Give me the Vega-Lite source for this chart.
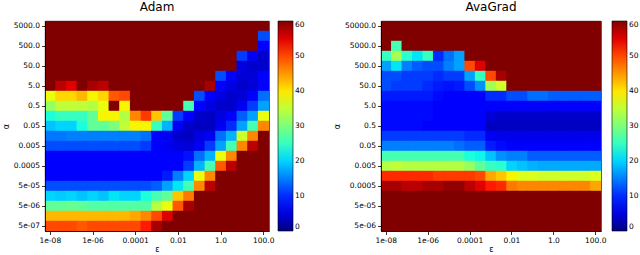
{
"$schema":"https://vega.github.io/schema/vega-lite/v6.json",
"padding":{"left":1,"top":0,"right":0,"bottom":0},
"background":"white",
"config":{
"font":"DejaVu Sans",
"view":{"stroke":"black","strokeWidth":0.8},
"axis":{"labelFont":"DejaVu Sans","labelFontSize":7.5,"labelColor":"black","tickColor":"black","domainColor":"black","tickSize":3.5,"tickWidth":0.8,"domainWidth":0.8,"labelPadding":2,"titleFont":"DejaVu Sans","titleFontWeight":"normal","titleFontSize":8,"titleColor":"black","grid":false,"labelAngle":0,"labelOverlap":false,"titlePadding":3},
"axisX":{"titlePadding":1},
"title":{"font":"DejaVu Sans","fontSize":12,"fontWeight":"normal","color":"black","offset":7},
"legend":{"labelFont":"DejaVu Sans","labelFontSize":7.5,"labelColor":"black","gradientLength":210,"gradientThickness":15,"gradientStrokeColor":"black","gradientStrokeWidth":0.6,"offset":9,"labelOffset":4,"padding":0}
},
"datasets":{
"adam":[
{"r":0,"c":0,"v":60},{"r":0,"c":1,"v":60},{"r":0,"c":2,"v":60},{"r":0,"c":3,"v":60},{"r":0,"c":4,"v":60},{"r":0,"c":5,"v":60},{"r":0,"c":6,"v":60},{"r":0,"c":7,"v":60},{"r":0,"c":8,"v":60},{"r":0,"c":9,"v":60},{"r":0,"c":10,"v":60},{"r":0,"c":11,"v":60},{"r":0,"c":12,"v":60},{"r":0,"c":13,"v":60},{"r":0,"c":14,"v":60},{"r":0,"c":15,"v":60},{"r":0,"c":16,"v":60},{"r":0,"c":17,"v":60},{"r":0,"c":18,"v":60},{"r":0,"c":19,"v":60},{"r":0,"c":20,"v":60},
{"r":1,"c":0,"v":60},{"r":1,"c":1,"v":60},{"r":1,"c":2,"v":60},{"r":1,"c":3,"v":60},{"r":1,"c":4,"v":60},{"r":1,"c":5,"v":60},{"r":1,"c":6,"v":60},{"r":1,"c":7,"v":60},{"r":1,"c":8,"v":60},{"r":1,"c":9,"v":60},{"r":1,"c":10,"v":60},{"r":1,"c":11,"v":60},{"r":1,"c":12,"v":60},{"r":1,"c":13,"v":60},{"r":1,"c":14,"v":60},{"r":1,"c":15,"v":60},{"r":1,"c":16,"v":60},{"r":1,"c":17,"v":60},{"r":1,"c":18,"v":60},{"r":1,"c":19,"v":60},{"r":1,"c":20,"v":12},
{"r":2,"c":0,"v":60},{"r":2,"c":1,"v":60},{"r":2,"c":2,"v":60},{"r":2,"c":3,"v":60},{"r":2,"c":4,"v":60},{"r":2,"c":5,"v":60},{"r":2,"c":6,"v":60},{"r":2,"c":7,"v":60},{"r":2,"c":8,"v":60},{"r":2,"c":9,"v":60},{"r":2,"c":10,"v":60},{"r":2,"c":11,"v":60},{"r":2,"c":12,"v":60},{"r":2,"c":13,"v":60},{"r":2,"c":14,"v":60},{"r":2,"c":15,"v":60},{"r":2,"c":16,"v":60},{"r":2,"c":17,"v":60},{"r":2,"c":18,"v":60},{"r":2,"c":19,"v":60},{"r":2,"c":20,"v":7},
{"r":3,"c":0,"v":60},{"r":3,"c":1,"v":60},{"r":3,"c":2,"v":60},{"r":3,"c":3,"v":60},{"r":3,"c":4,"v":60},{"r":3,"c":5,"v":60},{"r":3,"c":6,"v":60},{"r":3,"c":7,"v":60},{"r":3,"c":8,"v":60},{"r":3,"c":9,"v":60},{"r":3,"c":10,"v":60},{"r":3,"c":11,"v":60},{"r":3,"c":12,"v":60},{"r":3,"c":13,"v":60},{"r":3,"c":14,"v":60},{"r":3,"c":15,"v":60},{"r":3,"c":16,"v":60},{"r":3,"c":17,"v":60},{"r":3,"c":18,"v":11},{"r":3,"c":19,"v":6},{"r":3,"c":20,"v":4},
{"r":4,"c":0,"v":60},{"r":4,"c":1,"v":60},{"r":4,"c":2,"v":60},{"r":4,"c":3,"v":60},{"r":4,"c":4,"v":60},{"r":4,"c":5,"v":60},{"r":4,"c":6,"v":60},{"r":4,"c":7,"v":60},{"r":4,"c":8,"v":60},{"r":4,"c":9,"v":60},{"r":4,"c":10,"v":60},{"r":4,"c":11,"v":60},{"r":4,"c":12,"v":60},{"r":4,"c":13,"v":60},{"r":4,"c":14,"v":60},{"r":4,"c":15,"v":60},{"r":4,"c":16,"v":60},{"r":4,"c":17,"v":60},{"r":4,"c":18,"v":5},{"r":4,"c":19,"v":4},{"r":4,"c":20,"v":4},
{"r":5,"c":0,"v":60},{"r":5,"c":1,"v":60},{"r":5,"c":2,"v":60},{"r":5,"c":3,"v":60},{"r":5,"c":4,"v":60},{"r":5,"c":5,"v":60},{"r":5,"c":6,"v":60},{"r":5,"c":7,"v":60},{"r":5,"c":8,"v":60},{"r":5,"c":9,"v":60},{"r":5,"c":10,"v":60},{"r":5,"c":11,"v":60},{"r":5,"c":12,"v":60},{"r":5,"c":13,"v":60},{"r":5,"c":14,"v":60},{"r":5,"c":15,"v":60},{"r":5,"c":16,"v":12},{"r":5,"c":17,"v":7},{"r":5,"c":18,"v":4.5},{"r":5,"c":19,"v":4.5},{"r":5,"c":20,"v":7},
{"r":6,"c":0,"v":60},{"r":6,"c":1,"v":57},{"r":6,"c":2,"v":55},{"r":6,"c":3,"v":60},{"r":6,"c":4,"v":58},{"r":6,"c":5,"v":57},{"r":6,"c":6,"v":60},{"r":6,"c":7,"v":60},{"r":6,"c":8,"v":60},{"r":6,"c":9,"v":60},{"r":6,"c":10,"v":60},{"r":6,"c":11,"v":60},{"r":6,"c":12,"v":60},{"r":6,"c":13,"v":60},{"r":6,"c":14,"v":60},{"r":6,"c":15,"v":58},{"r":6,"c":16,"v":7},{"r":6,"c":17,"v":5},{"r":6,"c":18,"v":4},{"r":6,"c":19,"v":4.5},{"r":6,"c":20,"v":7},
{"r":7,"c":0,"v":38},{"r":7,"c":1,"v":41},{"r":7,"c":2,"v":41},{"r":7,"c":3,"v":43},{"r":7,"c":4,"v":39},{"r":7,"c":5,"v":41},{"r":7,"c":6,"v":49},{"r":7,"c":7,"v":50},{"r":7,"c":8,"v":60},{"r":7,"c":9,"v":60},{"r":7,"c":10,"v":60},{"r":7,"c":11,"v":60},{"r":7,"c":12,"v":60},{"r":7,"c":13,"v":60},{"r":7,"c":14,"v":12},{"r":7,"c":15,"v":7},{"r":7,"c":16,"v":5},{"r":7,"c":17,"v":4},{"r":7,"c":18,"v":4.5},{"r":7,"c":19,"v":7},{"r":7,"c":20,"v":14},
{"r":8,"c":0,"v":32},{"r":8,"c":1,"v":35},{"r":8,"c":2,"v":35},{"r":8,"c":3,"v":35},{"r":8,"c":4,"v":34},{"r":8,"c":5,"v":38},{"r":8,"c":6,"v":60},{"r":8,"c":7,"v":39},{"r":8,"c":8,"v":60},{"r":8,"c":9,"v":60},{"r":8,"c":10,"v":60},{"r":8,"c":11,"v":60},{"r":8,"c":12,"v":60},{"r":8,"c":13,"v":26},{"r":8,"c":14,"v":7},{"r":8,"c":15,"v":5},{"r":8,"c":16,"v":4},{"r":8,"c":17,"v":4},{"r":8,"c":18,"v":6},{"r":8,"c":19,"v":11},{"r":8,"c":20,"v":17},
{"r":9,"c":0,"v":23},{"r":9,"c":1,"v":25},{"r":9,"c":2,"v":25},{"r":9,"c":3,"v":25},{"r":9,"c":4,"v":28},{"r":9,"c":5,"v":39},{"r":9,"c":6,"v":39},{"r":9,"c":7,"v":34},{"r":9,"c":8,"v":46},{"r":9,"c":9,"v":51},{"r":9,"c":10,"v":42},{"r":9,"c":11,"v":28},{"r":9,"c":12,"v":11},{"r":9,"c":13,"v":7},{"r":9,"c":14,"v":4},{"r":9,"c":15,"v":3.5},{"r":9,"c":16,"v":5},{"r":9,"c":17,"v":7},{"r":9,"c":18,"v":13},{"r":9,"c":19,"v":17},{"r":9,"c":20,"v":38},
{"r":10,"c":0,"v":19},{"r":10,"c":1,"v":20},{"r":10,"c":2,"v":20},{"r":10,"c":3,"v":23},{"r":10,"c":4,"v":28},{"r":10,"c":5,"v":28},{"r":10,"c":6,"v":30},{"r":10,"c":7,"v":35},{"r":10,"c":8,"v":39},{"r":10,"c":9,"v":39},{"r":10,"c":10,"v":25},{"r":10,"c":11,"v":18},{"r":10,"c":12,"v":6},{"r":10,"c":13,"v":4},{"r":10,"c":14,"v":3.5},{"r":10,"c":15,"v":3.5},{"r":10,"c":16,"v":6},{"r":10,"c":17,"v":10},{"r":10,"c":18,"v":17},{"r":10,"c":19,"v":26},{"r":10,"c":20,"v":46},
{"r":11,"c":0,"v":14.5},{"r":11,"c":1,"v":14.5},{"r":11,"c":2,"v":15},{"r":11,"c":3,"v":15},{"r":11,"c":4,"v":15},{"r":11,"c":5,"v":15},{"r":11,"c":6,"v":15},{"r":11,"c":7,"v":15},{"r":11,"c":8,"v":15},{"r":11,"c":9,"v":14},{"r":11,"c":10,"v":7},{"r":11,"c":11,"v":6},{"r":11,"c":12,"v":4},{"r":11,"c":13,"v":3.5},{"r":11,"c":14,"v":5},{"r":11,"c":15,"v":6},{"r":11,"c":16,"v":14},{"r":11,"c":17,"v":18},{"r":11,"c":18,"v":36},{"r":11,"c":19,"v":46},{"r":11,"c":20,"v":60},
{"r":12,"c":0,"v":12},{"r":12,"c":1,"v":12},{"r":12,"c":2,"v":12},{"r":12,"c":3,"v":12},{"r":12,"c":4,"v":12},{"r":12,"c":5,"v":12},{"r":12,"c":6,"v":12},{"r":12,"c":7,"v":12},{"r":12,"c":8,"v":12},{"r":12,"c":9,"v":11},{"r":12,"c":10,"v":7},{"r":12,"c":11,"v":6},{"r":12,"c":12,"v":5},{"r":12,"c":13,"v":4.5},{"r":12,"c":14,"v":6},{"r":12,"c":15,"v":11},{"r":12,"c":16,"v":17},{"r":12,"c":17,"v":26},{"r":12,"c":18,"v":46},{"r":12,"c":19,"v":57},{"r":12,"c":20,"v":60},
{"r":13,"c":0,"v":7.5},{"r":13,"c":1,"v":7.5},{"r":13,"c":2,"v":7.5},{"r":13,"c":3,"v":7.5},{"r":13,"c":4,"v":7.5},{"r":13,"c":5,"v":7.5},{"r":13,"c":6,"v":7.5},{"r":13,"c":7,"v":7.5},{"r":13,"c":8,"v":7.5},{"r":13,"c":9,"v":7.5},{"r":13,"c":10,"v":7.5},{"r":13,"c":11,"v":7.5},{"r":13,"c":12,"v":7.5},{"r":13,"c":13,"v":8.5},{"r":13,"c":14,"v":14},{"r":13,"c":15,"v":18},{"r":13,"c":16,"v":38},{"r":13,"c":17,"v":46},{"r":13,"c":18,"v":60},{"r":13,"c":19,"v":60},{"r":13,"c":20,"v":60},
{"r":14,"c":0,"v":7.5},{"r":14,"c":1,"v":7.5},{"r":14,"c":2,"v":7.5},{"r":14,"c":3,"v":7.5},{"r":14,"c":4,"v":7.5},{"r":14,"c":5,"v":7.5},{"r":14,"c":6,"v":7.5},{"r":14,"c":7,"v":7.5},{"r":14,"c":8,"v":7.5},{"r":14,"c":9,"v":7.5},{"r":14,"c":10,"v":7.5},{"r":14,"c":11,"v":7.5},{"r":14,"c":12,"v":7.5},{"r":14,"c":13,"v":11},{"r":14,"c":14,"v":18},{"r":14,"c":15,"v":26},{"r":14,"c":16,"v":49},{"r":14,"c":17,"v":57},{"r":14,"c":18,"v":60},{"r":14,"c":19,"v":60},{"r":14,"c":20,"v":60},
{"r":15,"c":0,"v":7},{"r":15,"c":1,"v":7},{"r":15,"c":2,"v":7},{"r":15,"c":3,"v":7},{"r":15,"c":4,"v":7},{"r":15,"c":5,"v":7},{"r":15,"c":6,"v":7},{"r":15,"c":7,"v":7},{"r":15,"c":8,"v":7},{"r":15,"c":9,"v":7},{"r":15,"c":10,"v":7.5},{"r":15,"c":11,"v":9},{"r":15,"c":12,"v":15},{"r":15,"c":13,"v":20},{"r":15,"c":14,"v":38},{"r":15,"c":15,"v":46},{"r":15,"c":16,"v":60},{"r":15,"c":17,"v":60},{"r":15,"c":18,"v":60},{"r":15,"c":19,"v":60},{"r":15,"c":20,"v":60},
{"r":16,"c":0,"v":12},{"r":16,"c":1,"v":12},{"r":16,"c":2,"v":12},{"r":16,"c":3,"v":12},{"r":16,"c":4,"v":12},{"r":16,"c":5,"v":12},{"r":16,"c":6,"v":12},{"r":16,"c":7,"v":12},{"r":16,"c":8,"v":12},{"r":16,"c":9,"v":12},{"r":16,"c":10,"v":13},{"r":16,"c":11,"v":17},{"r":16,"c":12,"v":21},{"r":16,"c":13,"v":26},{"r":16,"c":14,"v":46},{"r":16,"c":15,"v":57},{"r":16,"c":16,"v":60},{"r":16,"c":17,"v":60},{"r":16,"c":18,"v":60},{"r":16,"c":19,"v":60},{"r":16,"c":20,"v":60},
{"r":17,"c":0,"v":20},{"r":17,"c":1,"v":19.5},{"r":17,"c":2,"v":20},{"r":17,"c":3,"v":19},{"r":17,"c":4,"v":20},{"r":17,"c":5,"v":19},{"r":17,"c":6,"v":21},{"r":17,"c":7,"v":20},{"r":17,"c":8,"v":20},{"r":17,"c":9,"v":23},{"r":17,"c":10,"v":26},{"r":17,"c":11,"v":28},{"r":17,"c":12,"v":42},{"r":17,"c":13,"v":47},{"r":17,"c":14,"v":60},{"r":17,"c":15,"v":60},{"r":17,"c":16,"v":60},{"r":17,"c":17,"v":60},{"r":17,"c":18,"v":60},{"r":17,"c":19,"v":60},{"r":17,"c":20,"v":60},
{"r":18,"c":0,"v":28},{"r":18,"c":1,"v":28},{"r":18,"c":2,"v":28.5},{"r":18,"c":3,"v":28},{"r":18,"c":4,"v":27},{"r":18,"c":5,"v":27},{"r":18,"c":6,"v":27},{"r":18,"c":7,"v":27},{"r":18,"c":8,"v":27},{"r":18,"c":9,"v":27},{"r":18,"c":10,"v":34},{"r":18,"c":11,"v":38},{"r":18,"c":12,"v":49},{"r":18,"c":13,"v":58},{"r":18,"c":14,"v":60},{"r":18,"c":15,"v":60},{"r":18,"c":16,"v":60},{"r":18,"c":17,"v":60},{"r":18,"c":18,"v":60},{"r":18,"c":19,"v":60},{"r":18,"c":20,"v":60},
{"r":19,"c":0,"v":43},{"r":19,"c":1,"v":43},{"r":19,"c":2,"v":43},{"r":19,"c":3,"v":43},{"r":19,"c":4,"v":43},{"r":19,"c":5,"v":43},{"r":19,"c":6,"v":43},{"r":19,"c":7,"v":43},{"r":19,"c":8,"v":44},{"r":19,"c":9,"v":46},{"r":19,"c":10,"v":50},{"r":19,"c":11,"v":55},{"r":19,"c":12,"v":60},{"r":19,"c":13,"v":60},{"r":19,"c":14,"v":60},{"r":19,"c":15,"v":60},{"r":19,"c":16,"v":60},{"r":19,"c":17,"v":60},{"r":19,"c":18,"v":60},{"r":19,"c":19,"v":60},{"r":19,"c":20,"v":60},
{"r":20,"c":0,"v":50},{"r":20,"c":1,"v":50},{"r":20,"c":2,"v":50},{"r":20,"c":3,"v":49},{"r":20,"c":4,"v":50},{"r":20,"c":5,"v":50},{"r":20,"c":6,"v":50},{"r":20,"c":7,"v":50},{"r":20,"c":8,"v":50},{"r":20,"c":9,"v":53},{"r":20,"c":10,"v":58},{"r":20,"c":11,"v":60},{"r":20,"c":12,"v":60},{"r":20,"c":13,"v":60},{"r":20,"c":14,"v":60},{"r":20,"c":15,"v":60},{"r":20,"c":16,"v":60},{"r":20,"c":17,"v":60},{"r":20,"c":18,"v":60},{"r":20,"c":19,"v":60},{"r":20,"c":20,"v":60}
],
"ava":[
{"r":0,"c":0,"v":60},{"r":0,"c":1,"v":60},{"r":0,"c":2,"v":60},{"r":0,"c":3,"v":60},{"r":0,"c":4,"v":60},{"r":0,"c":5,"v":60},{"r":0,"c":6,"v":60},{"r":0,"c":7,"v":60},{"r":0,"c":8,"v":60},{"r":0,"c":9,"v":60},{"r":0,"c":10,"v":60},{"r":0,"c":11,"v":60},{"r":0,"c":12,"v":60},{"r":0,"c":13,"v":60},{"r":0,"c":14,"v":60},{"r":0,"c":15,"v":60},{"r":0,"c":16,"v":60},{"r":0,"c":17,"v":60},{"r":0,"c":18,"v":60},{"r":0,"c":19,"v":60},{"r":0,"c":20,"v":60},
{"r":1,"c":0,"v":60},{"r":1,"c":1,"v":60},{"r":1,"c":2,"v":60},{"r":1,"c":3,"v":60},{"r":1,"c":4,"v":60},{"r":1,"c":5,"v":60},{"r":1,"c":6,"v":60},{"r":1,"c":7,"v":60},{"r":1,"c":8,"v":60},{"r":1,"c":9,"v":60},{"r":1,"c":10,"v":60},{"r":1,"c":11,"v":60},{"r":1,"c":12,"v":60},{"r":1,"c":13,"v":60},{"r":1,"c":14,"v":60},{"r":1,"c":15,"v":60},{"r":1,"c":16,"v":60},{"r":1,"c":17,"v":60},{"r":1,"c":18,"v":60},{"r":1,"c":19,"v":60},{"r":1,"c":20,"v":60},
{"r":2,"c":0,"v":60},{"r":2,"c":1,"v":26},{"r":2,"c":2,"v":60},{"r":2,"c":3,"v":60},{"r":2,"c":4,"v":60},{"r":2,"c":5,"v":60},{"r":2,"c":6,"v":60},{"r":2,"c":7,"v":60},{"r":2,"c":8,"v":60},{"r":2,"c":9,"v":60},{"r":2,"c":10,"v":60},{"r":2,"c":11,"v":60},{"r":2,"c":12,"v":60},{"r":2,"c":13,"v":60},{"r":2,"c":14,"v":60},{"r":2,"c":15,"v":60},{"r":2,"c":16,"v":60},{"r":2,"c":17,"v":60},{"r":2,"c":18,"v":60},{"r":2,"c":19,"v":60},{"r":2,"c":20,"v":60},
{"r":3,"c":0,"v":25},{"r":3,"c":1,"v":33},{"r":3,"c":2,"v":24},{"r":3,"c":3,"v":21},{"r":3,"c":4,"v":25},{"r":3,"c":5,"v":10},{"r":3,"c":6,"v":14},{"r":3,"c":7,"v":17},{"r":3,"c":8,"v":60},{"r":3,"c":9,"v":60},{"r":3,"c":10,"v":60},{"r":3,"c":11,"v":60},{"r":3,"c":12,"v":60},{"r":3,"c":13,"v":60},{"r":3,"c":14,"v":60},{"r":3,"c":15,"v":60},{"r":3,"c":16,"v":60},{"r":3,"c":17,"v":60},{"r":3,"c":18,"v":60},{"r":3,"c":19,"v":60},{"r":3,"c":20,"v":60},
{"r":4,"c":0,"v":17},{"r":4,"c":1,"v":21},{"r":4,"c":2,"v":15},{"r":4,"c":3,"v":13},{"r":4,"c":4,"v":12},{"r":4,"c":5,"v":12},{"r":4,"c":6,"v":15},{"r":4,"c":7,"v":17},{"r":4,"c":8,"v":50},{"r":4,"c":9,"v":55},{"r":4,"c":10,"v":60},{"r":4,"c":11,"v":60},{"r":4,"c":12,"v":60},{"r":4,"c":13,"v":60},{"r":4,"c":14,"v":60},{"r":4,"c":15,"v":60},{"r":4,"c":16,"v":60},{"r":4,"c":17,"v":60},{"r":4,"c":18,"v":60},{"r":4,"c":19,"v":60},{"r":4,"c":20,"v":60},
{"r":5,"c":0,"v":12},{"r":5,"c":1,"v":12},{"r":5,"c":2,"v":11},{"r":5,"c":3,"v":11},{"r":5,"c":4,"v":11},{"r":5,"c":5,"v":10},{"r":5,"c":6,"v":11},{"r":5,"c":7,"v":11},{"r":5,"c":8,"v":17},{"r":5,"c":9,"v":25},{"r":5,"c":10,"v":50},{"r":5,"c":11,"v":58},{"r":5,"c":12,"v":60},{"r":5,"c":13,"v":60},{"r":5,"c":14,"v":60},{"r":5,"c":15,"v":60},{"r":5,"c":16,"v":60},{"r":5,"c":17,"v":60},{"r":5,"c":18,"v":60},{"r":5,"c":19,"v":60},{"r":5,"c":20,"v":60},
{"r":6,"c":0,"v":12},{"r":6,"c":1,"v":11},{"r":6,"c":2,"v":11},{"r":6,"c":3,"v":11},{"r":6,"c":4,"v":10},{"r":6,"c":5,"v":9},{"r":6,"c":6,"v":8.5},{"r":6,"c":7,"v":9},{"r":6,"c":8,"v":12},{"r":6,"c":9,"v":16},{"r":6,"c":10,"v":33},{"r":6,"c":11,"v":36},{"r":6,"c":12,"v":60},{"r":6,"c":13,"v":60},{"r":6,"c":14,"v":60},{"r":6,"c":15,"v":60},{"r":6,"c":16,"v":60},{"r":6,"c":17,"v":60},{"r":6,"c":18,"v":60},{"r":6,"c":19,"v":60},{"r":6,"c":20,"v":60},
{"r":7,"c":0,"v":9},{"r":7,"c":1,"v":9},{"r":7,"c":2,"v":9},{"r":7,"c":3,"v":9},{"r":7,"c":4,"v":9},{"r":7,"c":5,"v":8},{"r":7,"c":6,"v":7},{"r":7,"c":7,"v":7},{"r":7,"c":8,"v":7},{"r":7,"c":9,"v":7},{"r":7,"c":10,"v":10},{"r":7,"c":11,"v":10},{"r":7,"c":12,"v":12},{"r":7,"c":13,"v":12},{"r":7,"c":14,"v":14},{"r":7,"c":15,"v":14},{"r":7,"c":16,"v":13},{"r":7,"c":17,"v":13},{"r":7,"c":18,"v":13},{"r":7,"c":19,"v":13},{"r":7,"c":20,"v":13},
{"r":8,"c":0,"v":8},{"r":8,"c":1,"v":8},{"r":8,"c":2,"v":8},{"r":8,"c":3,"v":8},{"r":8,"c":4,"v":8},{"r":8,"c":5,"v":7.5},{"r":8,"c":6,"v":7},{"r":8,"c":7,"v":7},{"r":8,"c":8,"v":7},{"r":8,"c":9,"v":7},{"r":8,"c":10,"v":6.5},{"r":8,"c":11,"v":6.5},{"r":8,"c":12,"v":6.5},{"r":8,"c":13,"v":6.5},{"r":8,"c":14,"v":6.5},{"r":8,"c":15,"v":6.5},{"r":8,"c":16,"v":6.5},{"r":8,"c":17,"v":6.5},{"r":8,"c":18,"v":6.5},{"r":8,"c":19,"v":6.5},{"r":8,"c":20,"v":6.5},
{"r":9,"c":0,"v":8},{"r":9,"c":1,"v":8},{"r":9,"c":2,"v":8},{"r":9,"c":3,"v":8},{"r":9,"c":4,"v":8},{"r":9,"c":5,"v":7},{"r":9,"c":6,"v":7},{"r":9,"c":7,"v":7},{"r":9,"c":8,"v":7},{"r":9,"c":9,"v":7},{"r":9,"c":10,"v":4.5},{"r":9,"c":11,"v":4},{"r":9,"c":12,"v":4},{"r":9,"c":13,"v":4},{"r":9,"c":14,"v":4},{"r":9,"c":15,"v":4},{"r":9,"c":16,"v":4},{"r":9,"c":17,"v":4},{"r":9,"c":18,"v":4},{"r":9,"c":19,"v":4},{"r":9,"c":20,"v":4},
{"r":10,"c":0,"v":8},{"r":10,"c":1,"v":8},{"r":10,"c":2,"v":8},{"r":10,"c":3,"v":8},{"r":10,"c":4,"v":7.5},{"r":10,"c":5,"v":7},{"r":10,"c":6,"v":7},{"r":10,"c":7,"v":7},{"r":10,"c":8,"v":7},{"r":10,"c":9,"v":7},{"r":10,"c":10,"v":3.5},{"r":10,"c":11,"v":3.5},{"r":10,"c":12,"v":3.5},{"r":10,"c":13,"v":3.5},{"r":10,"c":14,"v":3.5},{"r":10,"c":15,"v":3.5},{"r":10,"c":16,"v":3.5},{"r":10,"c":17,"v":3.5},{"r":10,"c":18,"v":3.5},{"r":10,"c":19,"v":3.5},{"r":10,"c":20,"v":3.5},
{"r":11,"c":0,"v":11},{"r":11,"c":1,"v":11},{"r":11,"c":2,"v":11},{"r":11,"c":3,"v":11},{"r":11,"c":4,"v":11},{"r":11,"c":5,"v":11},{"r":11,"c":6,"v":11},{"r":11,"c":7,"v":11},{"r":11,"c":8,"v":10},{"r":11,"c":9,"v":10},{"r":11,"c":10,"v":6},{"r":11,"c":11,"v":5.5},{"r":11,"c":12,"v":5.5},{"r":11,"c":13,"v":5.5},{"r":11,"c":14,"v":5.5},{"r":11,"c":15,"v":5.5},{"r":11,"c":16,"v":5.5},{"r":11,"c":17,"v":5.5},{"r":11,"c":18,"v":5.5},{"r":11,"c":19,"v":5.5},{"r":11,"c":20,"v":5.5},
{"r":12,"c":0,"v":15},{"r":12,"c":1,"v":15},{"r":12,"c":2,"v":15},{"r":12,"c":3,"v":15},{"r":12,"c":4,"v":15},{"r":12,"c":5,"v":15},{"r":12,"c":6,"v":15},{"r":12,"c":7,"v":14},{"r":12,"c":8,"v":13},{"r":12,"c":9,"v":13},{"r":12,"c":10,"v":9},{"r":12,"c":11,"v":8},{"r":12,"c":12,"v":7},{"r":12,"c":13,"v":7},{"r":12,"c":14,"v":7},{"r":12,"c":15,"v":7},{"r":12,"c":16,"v":7},{"r":12,"c":17,"v":7},{"r":12,"c":18,"v":7},{"r":12,"c":19,"v":7},{"r":12,"c":20,"v":7},
{"r":13,"c":0,"v":26},{"r":13,"c":1,"v":26},{"r":13,"c":2,"v":26},{"r":13,"c":3,"v":26},{"r":13,"c":4,"v":26},{"r":13,"c":5,"v":26},{"r":13,"c":6,"v":26},{"r":13,"c":7,"v":26},{"r":13,"c":8,"v":23},{"r":13,"c":9,"v":22},{"r":13,"c":10,"v":19},{"r":13,"c":11,"v":16},{"r":13,"c":12,"v":15},{"r":13,"c":13,"v":15},{"r":13,"c":14,"v":13},{"r":13,"c":15,"v":13},{"r":13,"c":16,"v":13},{"r":13,"c":17,"v":13},{"r":13,"c":18,"v":13},{"r":13,"c":19,"v":13},{"r":13,"c":20,"v":13},
{"r":14,"c":0,"v":34},{"r":14,"c":1,"v":35},{"r":14,"c":2,"v":34},{"r":14,"c":3,"v":34},{"r":14,"c":4,"v":34},{"r":14,"c":5,"v":34},{"r":14,"c":6,"v":34},{"r":14,"c":7,"v":34},{"r":14,"c":8,"v":32},{"r":14,"c":9,"v":28},{"r":14,"c":10,"v":25},{"r":14,"c":11,"v":24},{"r":14,"c":12,"v":20},{"r":14,"c":13,"v":19},{"r":14,"c":14,"v":18},{"r":14,"c":15,"v":17.5},{"r":14,"c":16,"v":17.5},{"r":14,"c":17,"v":17.5},{"r":14,"c":18,"v":17.5},{"r":14,"c":19,"v":17.5},{"r":14,"c":20,"v":17.5},
{"r":15,"c":0,"v":52},{"r":15,"c":1,"v":52},{"r":15,"c":2,"v":52},{"r":15,"c":3,"v":52},{"r":15,"c":4,"v":52},{"r":15,"c":5,"v":51},{"r":15,"c":6,"v":51},{"r":15,"c":7,"v":51},{"r":15,"c":8,"v":51},{"r":15,"c":9,"v":50},{"r":15,"c":10,"v":44},{"r":15,"c":11,"v":42},{"r":15,"c":12,"v":39},{"r":15,"c":13,"v":37},{"r":15,"c":14,"v":37},{"r":15,"c":15,"v":36},{"r":15,"c":16,"v":36},{"r":15,"c":17,"v":36},{"r":15,"c":18,"v":36},{"r":15,"c":19,"v":36},{"r":15,"c":20,"v":37},
{"r":16,"c":0,"v":58},{"r":16,"c":1,"v":58},{"r":16,"c":2,"v":57},{"r":16,"c":3,"v":57},{"r":16,"c":4,"v":58},{"r":16,"c":5,"v":58},{"r":16,"c":6,"v":59},{"r":16,"c":7,"v":59},{"r":16,"c":8,"v":57},{"r":16,"c":9,"v":55},{"r":16,"c":10,"v":53},{"r":16,"c":11,"v":52},{"r":16,"c":12,"v":47},{"r":16,"c":13,"v":46},{"r":16,"c":14,"v":46},{"r":16,"c":15,"v":46},{"r":16,"c":16,"v":46},{"r":16,"c":17,"v":46},{"r":16,"c":18,"v":46},{"r":16,"c":19,"v":46},{"r":16,"c":20,"v":44},
{"r":17,"c":0,"v":60},{"r":17,"c":1,"v":60},{"r":17,"c":2,"v":60},{"r":17,"c":3,"v":60},{"r":17,"c":4,"v":60},{"r":17,"c":5,"v":60},{"r":17,"c":6,"v":60},{"r":17,"c":7,"v":60},{"r":17,"c":8,"v":60},{"r":17,"c":9,"v":60},{"r":17,"c":10,"v":60},{"r":17,"c":11,"v":60},{"r":17,"c":12,"v":60},{"r":17,"c":13,"v":60},{"r":17,"c":14,"v":60},{"r":17,"c":15,"v":60},{"r":17,"c":16,"v":60},{"r":17,"c":17,"v":60},{"r":17,"c":18,"v":60},{"r":17,"c":19,"v":60},{"r":17,"c":20,"v":60},
{"r":18,"c":0,"v":60},{"r":18,"c":1,"v":60},{"r":18,"c":2,"v":60},{"r":18,"c":3,"v":60},{"r":18,"c":4,"v":60},{"r":18,"c":5,"v":60},{"r":18,"c":6,"v":60},{"r":18,"c":7,"v":60},{"r":18,"c":8,"v":60},{"r":18,"c":9,"v":60},{"r":18,"c":10,"v":60},{"r":18,"c":11,"v":60},{"r":18,"c":12,"v":60},{"r":18,"c":13,"v":60},{"r":18,"c":14,"v":60},{"r":18,"c":15,"v":60},{"r":18,"c":16,"v":60},{"r":18,"c":17,"v":60},{"r":18,"c":18,"v":60},{"r":18,"c":19,"v":60},{"r":18,"c":20,"v":60},
{"r":19,"c":0,"v":60},{"r":19,"c":1,"v":60},{"r":19,"c":2,"v":60},{"r":19,"c":3,"v":60},{"r":19,"c":4,"v":60},{"r":19,"c":5,"v":60},{"r":19,"c":6,"v":60},{"r":19,"c":7,"v":60},{"r":19,"c":8,"v":60},{"r":19,"c":9,"v":60},{"r":19,"c":10,"v":60},{"r":19,"c":11,"v":60},{"r":19,"c":12,"v":60},{"r":19,"c":13,"v":60},{"r":19,"c":14,"v":60},{"r":19,"c":15,"v":60},{"r":19,"c":16,"v":60},{"r":19,"c":17,"v":60},{"r":19,"c":18,"v":60},{"r":19,"c":19,"v":60},{"r":19,"c":20,"v":60},
{"r":20,"c":0,"v":60},{"r":20,"c":1,"v":60},{"r":20,"c":2,"v":60},{"r":20,"c":3,"v":60},{"r":20,"c":4,"v":60},{"r":20,"c":5,"v":60},{"r":20,"c":6,"v":60},{"r":20,"c":7,"v":60},{"r":20,"c":8,"v":60},{"r":20,"c":9,"v":60},{"r":20,"c":10,"v":60},{"r":20,"c":11,"v":60},{"r":20,"c":12,"v":60},{"r":20,"c":13,"v":60},{"r":20,"c":14,"v":60},{"r":20,"c":15,"v":60},{"r":20,"c":16,"v":60},{"r":20,"c":17,"v":60},{"r":20,"c":18,"v":60},{"r":20,"c":19,"v":60},{"r":20,"c":20,"v":60}
]
},
"spacing":27,
"hconcat":[
{"title":"Adam","width":224,"height":210,"data":{"name":"adam"},
"mark":{"type":"rect","strokeWidth":0,"width":{"band":1.08},"height":{"band":1.04},"clip":true},
"encoding":{
"x":{"field":"c","type":"ordinal","scale":{"paddingInner":0,"paddingOuter":0},"axis":{"title":"ε","values":[0,4,8,12,16,20],"labelExpr":"['1e-08','1e-06','0.0001','0.01','1.0','100.0'][datum.value/4]"}},
"y":{"field":"r","type":"ordinal","scale":{"paddingInner":0,"paddingOuter":0},"axis":{"title":"α","values":[0,2,4,6,8,10,12,14,16,18,20],"labelExpr":"['5000.0','500.0','50.0','5.0','0.5','0.05','0.005','0.0005','5e-05','5e-06','5e-07'][datum.value/2]"}},
"color":{"field":"v","type":"quantitative","scale":{"domain":[0,6.6,7.5,20.4,21,22.5,38.4,39,39.6,53.4,54.6,60],"range":["#000080","#0000ff","#0000ff","#00dbff","#00e6f7","#15ffe2","#efff08","#f7f600","#ffec00","#ff1300","#e80000","#800000"],"interpolate":"rgb","clamp":true},"legend":{"title":null,"values":[0,10,20,30,40,50,60],"direction":"vertical","orient":"right"}}
}},
{"title":"AvaGrad","width":220,"height":210,"data":{"name":"ava"},
"mark":{"type":"rect","strokeWidth":0,"width":{"band":1.08},"height":{"band":1.04},"clip":true},
"encoding":{
"x":{"field":"c","type":"ordinal","scale":{"paddingInner":0,"paddingOuter":0},"axis":{"title":"ε","values":[0,4,8,12,16,20],"labelExpr":"['1e-08','1e-06','0.0001','0.01','1.0','100.0'][datum.value/4]"}},
"y":{"field":"r","type":"ordinal","scale":{"paddingInner":0,"paddingOuter":0},"axis":{"title":"α","values":[0,2,4,6,8,10,12,14,16,18,20],"labelExpr":"['50000.0','5000.0','500.0','50.0','5.0','0.5','0.05','0.005','0.0005','5e-05','5e-06'][datum.value/2]"}},
"color":{"field":"v","type":"quantitative","scale":{"domain":[0,6.6,7.5,20.4,21,22.5,38.4,39,39.6,53.4,54.6,60],"range":["#000080","#0000ff","#0000ff","#00dbff","#00e6f7","#15ffe2","#efff08","#f7f600","#ffec00","#ff1300","#e80000","#800000"],"interpolate":"rgb","clamp":true},"legend":{"title":null,"values":[0,10,20,30,40,50,60],"direction":"vertical","orient":"right","offset":11,"gradientThickness":15,"labelOffset":2}}
}}
],
"resolve":{"scale":{"color":"independent","x":"independent","y":"independent"},"legend":{"color":"independent"}}
}
